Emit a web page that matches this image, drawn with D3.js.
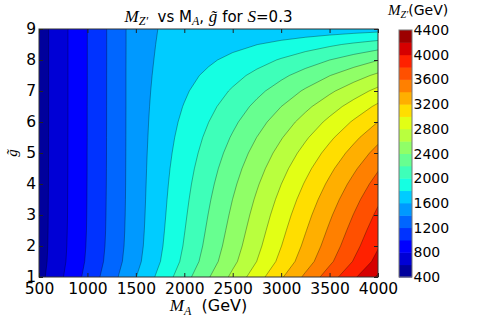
<!DOCTYPE html>
<html lang="en">
<head>
<meta charset="UTF-8">
<title>M_Z' vs M_A, g for S=0.3</title>
<script src="https://cdnjs.cloudflare.com/ajax/libs/d3/7.8.5/d3.min.js"></script>
<style>
  html, body { margin: 0; padding: 0; background: #fff; }
  svg { display: block; font-family: "DejaVu Sans", sans-serif; }
  .math { font-family: "Liberation Serif", "DejaVu Serif", serif; font-style: italic; }
  .axis path.domain { display: none; }
  .axis line { stroke: #222; }
</style>
</head>
<body>
<svg id="chart" width="491" height="327"></svg>
<script>
// grid: M_A (GeV) columns, g~ rows
const MA = [500, 750, 1000, 1250, 1500, 1750, 2000, 2250, 2500, 2750, 3000, 3250, 3500, 3750, 4000];
const G = [1, 1.5, 2, 2.5, 3, 3.5, 4, 4.5, 5, 5.5, 6, 6.5, 7, 7.5, 8, 8.5, 9];
// M_Z' (GeV), one row per g~ value (bottom row first)
const MZ = [
  [531, 797, 1063, 1329, 1595, 1858, 2121, 2385, 2648, 2912, 3175, 3439, 3703, 3967, 4231], // 1
  [514, 771, 1029, 1286, 1543, 1796, 2047, 2299, 2551, 2803, 3056, 3308, 3561, 3814, 4067], // 1.5
  [508, 762, 1016, 1270, 1524, 1771, 2014, 2259, 2504, 2750, 2996, 3242, 3488, 3735, 3982], // 2
  [505, 758, 1010, 1263, 1516, 1757, 1993, 2231, 2469, 2709, 2949, 3189, 3430, 3671, 3913], // 2.5
  [504, 755, 1007, 1259, 1511, 1746, 1974, 2205, 2436, 2669, 2903, 3137, 3372, 3607, 3842], // 3
  [503, 754, 1005, 1257, 1508, 1737, 1956, 2178, 2402, 2627, 2853, 3080, 3308, 3537, 3766], // 3.5
  [502, 753, 1004, 1255, 1506, 1728, 1937, 2149, 2363, 2580, 2798, 3017, 3237, 3458, 3679], // 4
  [502, 752, 1003, 1254, 1505, 1719, 1916, 2117, 2321, 2527, 2736, 2946, 3157, 3369, 3581], // 4.5
  [501, 752, 1003, 1253, 1504, 1709, 1892, 2081, 2273, 2469, 2666, 2865, 3066, 3268, 3471], // 5
  [501, 752, 1002, 1253, 1503, 1698, 1867, 2042, 2220, 2403, 2587, 2774, 2963, 3153, 3345], // 5.5
  [501, 751, 1002, 1252, 1503, 1687, 1839, 1998, 2161, 2328, 2499, 2672, 2847, 3024, 3202], // 6
  [501, 751, 1002, 1252, 1502, 1675, 1809, 1949, 2095, 2246, 2399, 2556, 2715, 2877, 3039], // 6.5
  [501, 751, 1001, 1252, 1502, 1662, 1775, 1896, 2022, 2153, 2287, 2425, 2566, 2709, 2854], // 7
  [501, 751, 1001, 1252, 1502, 1648, 1739, 1837, 1940, 2049, 2161, 2277, 2396, 2517, 2641], // 7.5
  [501, 751, 1001, 1251, 1502, 1634, 1699, 1771, 1849, 1931, 2017, 2107, 2200, 2295, 2393], // 8
  [500, 751, 1001, 1251, 1501, 1622, 1656, 1699, 1747, 1798, 1852, 1909, 1969, 2032, 2096], // 8.5
  [500, 751, 1001, 1251, 1501, 1610, 1612, 1620, 1632, 1645, 1659, 1675, 1691, 1709, 1728]  // 9
];
const levels = [400, 600, 800, 1000, 1200, 1400, 1600, 1800, 2000, 2200, 2400, 2600, 2800,
  3000, 3200, 3400, 3600, 3800, 4000, 4200, 4400];
const xTicks = [500, 1000, 1500, 2000, 2500, 3000, 3500, 4000];
const yTicks = [1, 2, 3, 4, 5, 6, 7, 8, 9];
const cbarTicks = [400, 800, 1200, 1600, 2000, 2400, 2800, 3200, 3600, 4000, 4400];

(function (d3) {
  const svg = d3.select("#chart");
  const pL = 39, pR = 378, pT = 29, pB = 277; // plot box

  const x = d3.scaleLinear().domain([500, 4000]).range([pL, pR]);
  const y = d3.scaleLinear().domain([1, 9]).range([pB, pT]);

  // matplotlib "jet"
  const jr = d3.scaleLinear().domain([0, 0.35, 0.66, 0.89, 1]).range([0, 0, 1, 1, 0.5]).clamp(true);
  const jg = d3.scaleLinear().domain([0, 0.125, 0.375, 0.64, 0.91, 1]).range([0, 0, 1, 1, 0, 0]).clamp(true);
  const jb = d3.scaleLinear().domain([0, 0.11, 0.34, 0.65, 1]).range([0.5, 1, 1, 0, 0]).clamp(true);
  function jet(v) {
    return d3.rgb(jr(v) * 255, jg(v) * 255, jb(v) * 255).toString();
  }
  const zMin = levels[0], zMax = levels[levels.length - 1];
  const bandColor = lo => jet((lo + 100 - zMin) / (zMax - zMin));

  // grid cell centres -> data coords
  const gi = d3.scaleLinear().domain([0.5, MA.length - 0.5]).range([MA[0], MA[MA.length - 1]]);
  const gj = d3.scaleLinear().domain([0.5, G.length - 0.5]).range([G[0], G[G.length - 1]]);
  const path = d3.geoPath(d3.geoTransform({
    point: function (px, py) { this.stream.point(x(gi(px)), y(gj(py))); }
  }));

  const values = MZ.flat();
  const bands = d3.contours()
    .size([MA.length, G.length])
    .thresholds(levels.slice(0, -1))(values);

  svg.append("clipPath").attr("id", "plotClip")
    .append("rect")
    .attr("x", pL).attr("y", pT)
    .attr("width", pR - pL).attr("height", pB - pT);

  const plot = svg.append("g").attr("clip-path", "url(#plotClip)");

  // filled bands
  plot.selectAll("path.band")
    .data(bands)
    .enter()
    .append("path")
    .attr("class", "band")
    .attr("d", path)
    .attr("fill", d => bandColor(d.value))
    .attr("stroke", "none");

  // contour lines
  plot.selectAll("path.line")
    .data(bands.slice(1))
    .enter()
    .append("path")
    .attr("class", "line")
    .attr("d", path)
    .attr("fill", "none")
    .attr("stroke", "rgba(0,0,0,0.45)")
    .attr("stroke-width", 0.7);

  // frame
  svg.append("rect")
    .attr("x", pL).attr("y", pT)
    .attr("width", pR - pL).attr("height", pB - pT)
    .attr("fill", "none").attr("stroke", "#333").attr("stroke-width", 1);

  // axes (inward ticks)
  svg.append("g").attr("class", "axis")
    .attr("transform", `translate(0,${pB})`)
    .call(d3.axisBottom(x).tickValues(xTicks).tickSize(-4).tickPadding(5.5).tickFormat(d3.format("d")))
    .selectAll("text").attr("font-size", "15.5px").attr("fill", "#000");
  svg.append("g").attr("class", "axis")
    .attr("transform", `translate(0,${pT})`)
    .call(d3.axisTop(x).tickValues(xTicks).tickSize(-4).tickFormat(""));
  svg.append("g").attr("class", "axis")
    .attr("transform", `translate(${pL},0)`)
    .call(d3.axisLeft(y).tickValues(yTicks).tickSize(-4).tickPadding(3).tickFormat(d3.format("d")))
    .selectAll("text").attr("font-size", "15.5px").attr("fill", "#000");
  svg.append("g").attr("class", "axis")
    .attr("transform", `translate(${pR},0)`)
    .call(d3.axisRight(y).tickValues(yTicks).tickSize(-4).tickFormat(""));
  svg.selectAll(".axis text").attr("font-family", "DejaVu Sans, sans-serif");

  // title
  const title = svg.append("text")
    .attr("x", (pL + pR) / 2).attr("y", 21.5)
    .attr("text-anchor", "middle").attr("font-size", "15px");
  title.append("tspan").attr("class", "math").attr("font-size", "17px").text("M");
  title.append("tspan").attr("class", "math").attr("font-size", "12px").attr("dy", 3).text("Z′");
  title.append("tspan").attr("dy", -3).text("\u00a0 vs M");
  title.append("tspan").attr("class", "math").attr("font-size", "12px").attr("dy", 3).text("A");
  title.append("tspan").attr("dy", -3).text(", ");
  title.append("tspan").attr("class", "math").attr("font-size", "17px").text("g̃");
  title.append("tspan").text(" for ");
  title.append("tspan").attr("class", "math").attr("font-size", "17px").text("S");
  title.append("tspan").text("=0.3");

  // x label
  const xl = svg.append("text")
    .attr("x", (pL + pR) / 2).attr("y", 311)
    .attr("text-anchor", "middle").attr("font-size", "16px");
  xl.append("tspan").attr("class", "math").attr("font-size", "17px").text("M");
  xl.append("tspan").attr("class", "math").attr("font-size", "12px").attr("dy", 4).text("A");
  xl.append("tspan").attr("dy", -4).text("\u00a0 (GeV)");

  // y label
  svg.append("text")
    .attr("class", "math")
    .attr("transform", `translate(17,${(pT + pB) / 2}) rotate(-90)`)
    .attr("text-anchor", "middle").attr("font-size", "15px")
    .text("g̃");

  // colorbar
  const cbX = 399, cbW = 13;
  const yc = d3.scaleLinear().domain([zMin, zMax]).range([pB, pT + 1]);
  const cb = svg.append("g");
  cb.selectAll("rect")
    .data(levels.slice(0, -1))
    .enter()
    .append("rect")
    .attr("x", cbX)
    .attr("y", d => yc(d + 200))
    .attr("width", cbW)
    .attr("height", d => yc(d) - yc(d + 200) + 0.5)
    .attr("fill", d => bandColor(d));
  cb.append("rect")
    .attr("x", cbX).attr("y", yc(zMax))
    .attr("width", cbW).attr("height", yc(zMin) - yc(zMax))
    .attr("fill", "none").attr("stroke", "#777").attr("stroke-width", 1);
  cb.selectAll("text.cbt")
    .data(cbarTicks)
    .enter()
    .append("text")
    .attr("class", "cbt")
    .attr("x", cbX + cbW + 1.5)
    .attr("y", d => yc(d))
    .attr("dy", "0.36em")
    .attr("font-size", "14px")
    .text(d => d);

  const cbt = svg.append("text").attr("x", 388).attr("y", 15).attr("font-size", "14px");
  cbt.append("tspan").attr("class", "math").attr("font-size", "15px").text("M");
  cbt.append("tspan").attr("class", "math").attr("font-size", "10px").attr("dy", 3).text("Z′");
  cbt.append("tspan").attr("dy", -3).text("(GeV)");
})(d3);
</script>
</body>
</html>
